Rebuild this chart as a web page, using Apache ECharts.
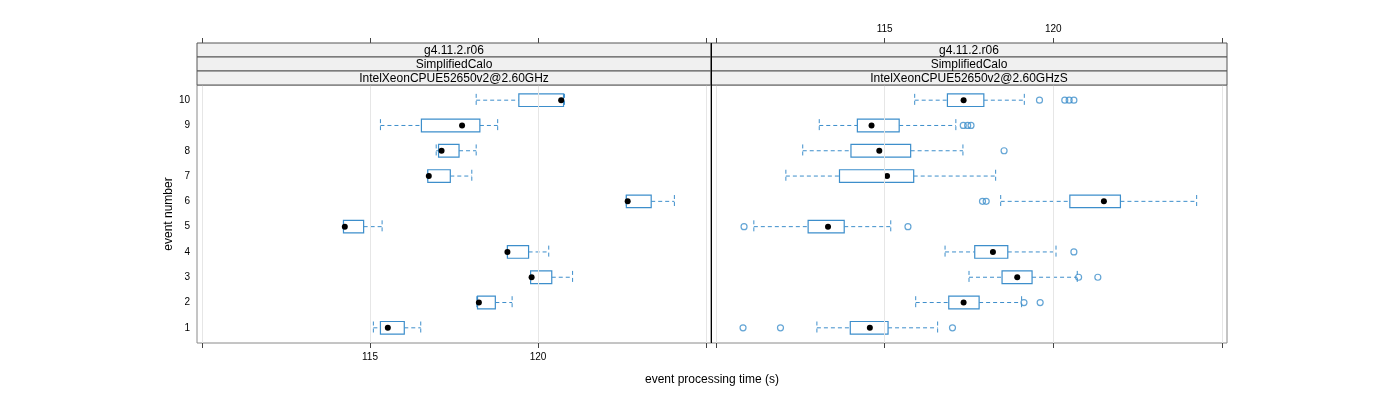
<!DOCTYPE html>
<html>
<head>
<meta charset="utf-8">
<script src="https://cdn.jsdelivr.net/npm/echarts@6/dist/echarts.min.js"></script>
<style>html,body{margin:0;padding:0;background:#fff}#c{width:1400px;height:400px}</style>
</head>
<body>
<div id="c"></div>
<script>
// ---- data ----
const events = [1, 2, 3, 4, 5, 6, 7, 8, 9, 10];
const yTickLabels = ['1', '2', '3', '4', '5', '6', '7', '8', '9', '10'];
const xTickValues = [110, 115, 120, 125];
const xLabelValues = [115, 120];
const stripLines = ['g4.11.2.r06', 'SimplifiedCalo'];
const panelNames = ['IntelXeonCPUE52650v2@2.60GHz', 'IntelXeonCPUE52650v2@2.60GHzS'];

// left panel (IntelXeonCPUE52650v2@2.60GHz)
const leftWhiskerLow  = [115.10, 118.18, 119.78, 119.09, 114.21, 122.63, 116.72, 116.97, 115.31, 118.16];
const leftQ1          = [115.31, 118.20, 119.78, 119.09, 114.21, 122.63, 116.72, 117.04, 116.53, 119.43];
const leftMedian      = [115.53, 118.24, 119.81, 119.09, 114.25, 122.67, 116.75, 117.13, 117.74, 120.69];
const leftQ3          = [116.02, 118.73, 120.41, 119.72, 114.81, 123.37, 117.39, 117.65, 118.27, 120.76];
const leftWhiskerHigh = [116.51, 119.23, 121.03, 120.32, 115.36, 124.06, 118.03, 118.16, 118.80, 120.79];
const leftOutliers    = [[], [], [], [], [], [], [], [], [], []];

// right panel (IntelXeonCPUE52650v2@2.60GHzS)
const rightWhiskerLow  = [112.99, 115.92, 117.50, 116.79, 111.12, 118.44, 112.07, 112.57, 113.06, 115.89];
const rightQ1          = [113.98, 116.90, 118.48, 117.67, 112.73, 120.49, 113.66, 114.00, 114.19, 116.86];
const rightMedian      = [114.56, 117.34, 118.93, 118.21, 113.32, 121.50, 115.07, 114.84, 114.61, 117.34];
const rightQ3          = [115.10, 117.80, 119.37, 118.65, 113.80, 121.99, 115.86, 115.77, 115.43, 117.94];
const rightWhiskerHigh = [116.57, 119.06, 120.71, 120.08, 115.18, 124.25, 118.29, 117.32, 117.11, 119.14];
const rightOutliers    = [
  [110.80, 111.91, 117.01],
  [119.13, 119.61],
  [120.75, 121.32],
  [120.61],
  [110.83, 115.69],
  [117.90, 118.01],
  [],
  [118.54],
  [117.33, 117.46, 117.56],
  [119.59, 120.34, 120.47, 120.61]
];

// ---- styling / layout ----
const BLUE = '#3d8ecb';
const FONT = 'Liberation Sans, Arial, Helvetica, sans-serif';
const X_MIN = 109.85, X_MAX = 125.15;
const Y_MIN = 0.4, Y_MAX = 10.6;
const PT = 85, PH = 258;
const panels = [{left: 197, width: 514}, {left: 711, width: 516}];

function boxData(lo, q1, med, q3, hi) {
  return events.map((e, i) => [e, lo[i], q1[i], med[i], q3[i], hi[i]]);
}
function outlierData(outs) {
  const d = [];
  outs.forEach((arr, i) => arr.forEach(v => d.push([v, events[i]])));
  return d;
}

function renderBox(params, api) {
  const y = api.value(0);
  const lo = api.value(1), q1 = api.value(2), med = api.value(3), q3 = api.value(4), hi = api.value(5);
  const pLo = api.coord([lo, y]), pQ1 = api.coord([q1, y]), pMed = api.coord([med, y]);
  const pQ3 = api.coord([q3, y]), pHi = api.coord([hi, y]);
  const h = api.size([0, 1])[1] * 0.5;
  const cy = pMed[1];
  const dashed = {stroke: BLUE, lineWidth: 1, lineDash: [4, 3], fill: null};
  return {
    type: 'group',
    children: [
      {type: 'line', shape: {x1: pLo[0], y1: cy, x2: pQ1[0], y2: cy}, style: dashed},
      {type: 'line', shape: {x1: pQ3[0], y1: cy, x2: pHi[0], y2: cy}, style: dashed},
      {type: 'line', shape: {x1: pLo[0], y1: cy - h / 2, x2: pLo[0], y2: cy + h / 2}, style: dashed},
      {type: 'line', shape: {x1: pHi[0], y1: cy - h / 2, x2: pHi[0], y2: cy + h / 2}, style: dashed},
      {type: 'rect', shape: {x: pQ1[0], y: cy - h / 2, width: pQ3[0] - pQ1[0], height: h},
        style: {stroke: BLUE, lineWidth: 1.2, fill: '#fff'}},
      {type: 'circle', shape: {cx: pMed[0], cy: cy, r: 3}, style: {fill: '#000', stroke: null}}
    ]
  };
}

const grids = panels.map(p => ({
  left: p.left, top: PT, width: p.width, height: PH,
  show: true, borderColor: '#8a8a8a', borderWidth: 1, backgroundColor: 'transparent'
}));

function bottomAxis(gi, labels) {
  return {
    type: 'value', gridIndex: gi, position: 'bottom', min: X_MIN, max: X_MAX,
    axisLine: {show: false},
    axisTick: {show: true, customValues: xTickValues, length: 5, lineStyle: {color: '#444'}},
    axisLabel: {show: labels, customValues: xLabelValues, margin: 9,
      fontFamily: FONT, fontSize: 10, color: '#000'},
    splitLine: {show: false}
  };
}
function topAxis(gi, labels) {
  return {
    type: 'value', gridIndex: gi, position: 'top', offset: 42, min: X_MIN, max: X_MAX,
    axisLine: {show: false},
    axisTick: {show: true, customValues: xTickValues, length: 5, lineStyle: {color: '#444'}},
    axisLabel: {show: labels, customValues: xLabelValues, margin: 9,
      fontFamily: FONT, fontSize: 10, color: '#000'},
    splitLine: {show: false}
  };
}
function yAxis(gi, labels) {
  return {
    type: 'value', gridIndex: gi, min: Y_MIN, max: Y_MAX,
    axisLine: {show: false}, axisTick: {show: false}, splitLine: {show: false},
    axisLabel: {show: labels, customValues: events, margin: 7,
      formatter: v => yTickLabels[events.indexOf(Math.round(v))] || '',
      fontFamily: FONT, fontSize: 10, color: '#000'}
  };
}

function gridLineSeries(xi, yi) {
  return {
    type: 'line', xAxisIndex: xi, yAxisIndex: yi, data: [], silent: true,
    markLine: {
      silent: true, symbol: 'none', label: {show: false},
      lineStyle: {color: '#e6e6e6', type: 'solid', width: 1},
      data: xTickValues.map(v => ({xAxis: v}))
    }
  };
}

const series = [
  gridLineSeries(0, 0),
  gridLineSeries(1, 1),
  {type: 'custom', xAxisIndex: 0, yAxisIndex: 0, renderItem: renderBox,
    encode: {x: [1, 2, 3, 4, 5], y: 0},
    data: boxData(leftWhiskerLow, leftQ1, leftMedian, leftQ3, leftWhiskerHigh), z: 3},
  {type: 'custom', xAxisIndex: 1, yAxisIndex: 1, renderItem: renderBox,
    encode: {x: [1, 2, 3, 4, 5], y: 0},
    data: boxData(rightWhiskerLow, rightQ1, rightMedian, rightQ3, rightWhiskerHigh), z: 3},
  {type: 'scatter', xAxisIndex: 0, yAxisIndex: 0, data: outlierData(leftOutliers),
    symbol: 'circle', symbolSize: 6,
    itemStyle: {color: 'rgba(0,0,0,0)', borderColor: BLUE, borderWidth: 1.2}, z: 4},
  {type: 'scatter', xAxisIndex: 1, yAxisIndex: 1, data: outlierData(rightOutliers),
    symbol: 'circle', symbolSize: 6,
    itemStyle: {color: 'rgba(0,0,0,0)', borderColor: BLUE, borderWidth: 1.2}, z: 4}
];

// strips
const graphics = [];
panels.forEach((p, pi) => {
  const rows = stripLines.concat([panelNames[pi]]);
  rows.forEach((t, ri) => {
    const y0 = 43 + ri * 14;
    graphics.push({type: 'rect', shape: {x: p.left, y: y0, width: p.width, height: 14},
      style: {fill: '#f0f0f0', stroke: '#555', lineWidth: 1}, z: 10});
    graphics.push({type: 'text', x: p.left + p.width / 2, y: y0 + 7.5,
      style: {text: t, fontFamily: FONT, fontSize: 12, fill: '#000', align: 'center', verticalAlign: 'middle'}, z: 11});
  });
});
graphics.push({type: 'line', shape: {x1: 711.5, y1: 43, x2: 711.5, y2: 343},
  style: {stroke: '#000', lineWidth: 1}, z: 12});
graphics.push({type: 'text', x: 169, y: 214, rotation: Math.PI / 2,
  style: {text: 'event number', fontFamily: FONT, fontSize: 12, fill: '#000', align: 'center', verticalAlign: 'middle'}});
graphics.push({type: 'text', x: 712, y: 380,
  style: {text: 'event processing time (s)', fontFamily: FONT, fontSize: 12, fill: '#000', align: 'center', verticalAlign: 'middle'}});

const chart = echarts.init(document.getElementById('c'), null, {renderer: 'canvas'});
chart.setOption({
  animation: false,
  backgroundColor: '#fff',
  grid: grids,
  xAxis: [bottomAxis(0, true), bottomAxis(1, false), topAxis(0, false), topAxis(1, true)],
  yAxis: [yAxis(0, true), yAxis(1, false)],
  series: series,
  graphic: graphics
});
</script>
</body>
</html>
